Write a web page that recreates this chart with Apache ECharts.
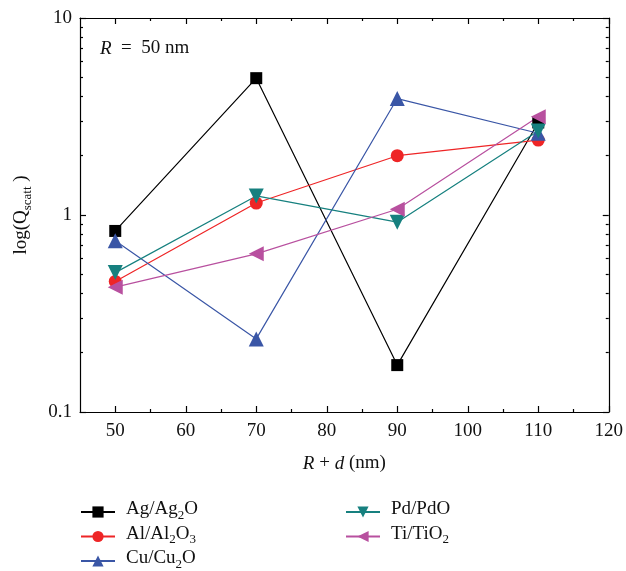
<!DOCTYPE html>
<html>
<head>
<meta charset="utf-8">
<script src="https://cdn.jsdelivr.net/npm/echarts@6/dist/echarts.min.js"></script>
<style>
  html, body { margin: 0; padding: 0; background: #fff; }
  #chart { width: 626px; height: 571px; }
</style>
</head>
<body>
<div id="chart"></div>
<script>
// R + d (nm)
const xValues = [50, 70, 90, 110];

// Q_scatt per shell material
const agValues = [0.83, 4.95, 0.173, 2.95];
const alValues = [0.46, 1.15, 2.0, 2.4];
const cuValues = [0.74, 0.235, 3.9, 2.6];
const pdValues = [0.51, 1.25, 0.92, 2.67];
const tiValues = [0.43, 0.635, 1.07, 3.15];

const seriesNames = ['Ag/Ag2O', 'Al/Al2O3', 'Cu/Cu2O', 'Pd/PdO', 'Ti/TiO2'];

// tick positions
const xMajorTicks = [50, 60, 70, 80, 90, 100, 110, 120];
const xMinorTicks = [55, 65, 75, 85, 95, 105, 115];
const yMajorTicks = [0.1, 1, 10];
const yMinorTicks = [0.2, 0.3, 0.4, 0.5, 0.6, 0.7, 0.8, 0.9, 2, 3, 4, 5, 6, 7, 8, 9];

const FONT = '"Liberation Serif", "DejaVu Serif", serif';
const FS = 19;

const chart = echarts.init(document.getElementById('chart'));

const pair = vals => xValues.map((x, i) => [x, vals[i]]);

// label text with subscripts
const subRich = {
  n: { fontFamily: FONT, fontSize: FS, color: '#111', lineHeight: 20, verticalAlign: 'bottom', padding: [0, 0, 3, 0] },
  s: { fontFamily: FONT, fontSize: 13, color: '#111', lineHeight: 20, verticalAlign: 'bottom' }
};
const legendLabel = name => ({
  'Ag/Ag2O': '{n|Ag/Ag}{s|2}{n|O}',
  'Al/Al2O3': '{n|Al/Al}{s|2}{n|O}{s|3}',
  'Cu/Cu2O': '{n|Cu/Cu}{s|2}{n|O}',
  'Pd/PdO': '{n|Pd/PdO}',
  'Ti/TiO2': '{n|Ti/TiO}{s|2}'
}[name]);

const makeSeries = (name, vals, color, symbol, size, rotate) => ({
  name,
  type: 'line',
  data: pair(vals),
  xAxisIndex: 0,
  yAxisIndex: 0,
  symbol,
  symbolSize: size,
  symbolRotate: rotate,
  lineStyle: { color, width: 1.2 },
  itemStyle: { color },
  emphasis: { disabled: true }
});

const xAxisBase = {
  type: 'value', min: 45, max: 120,
  splitLine: { show: false },
  axisLine: { show: false, lineStyle: { color: '#000', width: 1.2 } },
  axisLabel: { show: false },
  axisTick: { show: false }
};
const yAxisBase = {
  type: 'log', min: 0.1, max: 10,
  splitLine: { show: false },
  axisLine: { show: false, lineStyle: { color: '#000', width: 1.2 } },
  axisLabel: { show: false },
  axisTick: { show: false }
};
const tickStyle = { color: '#000', width: 1.2 };
const italicRich = { i: { fontFamily: FONT, fontSize: FS, fontStyle: 'italic', color: '#111' } };

const legendCommon = {
  orient: 'vertical', top: 500, height: 90, padding: 0,
  itemWidth: 34, itemHeight: 14, itemGap: 2.5,
  formatter: legendLabel,
  textStyle: { rich: subRich, padding: [0, 0, 0, 6] }
};

chart.setOption({
  animation: false,
  grid: { left: 80, right: 17, top: 18, bottom: 159 },
  title: {
    text: '{i|R}  =  50 nm',
    left: 95, top: 34,
    textStyle: {
      fontFamily: FONT, fontSize: FS, fontWeight: 'normal', color: '#111',
      rich: italicRich
    }
  },
  legend: [
    { ...legendCommon, data: seriesNames.slice(0, 3), left: 80 },
    { ...legendCommon, data: seriesNames.slice(3), left: 345 }
  ],
  xAxis: [
    {
      ...xAxisBase, position: 'bottom',
      axisLine: { show: true, lineStyle: { color: '#000', width: 1.2 } },
      axisTick: { show: true, inside: true, length: 6, lineStyle: tickStyle, customValues: xMajorTicks },
      axisLabel: { show: true, customValues: xMajorTicks, fontFamily: FONT, fontSize: FS, color: '#111', margin: 10 },
      name: '{i|R} + {i|d} (nm)',
      nameLocation: 'middle', nameGap: 42,
      nameTextStyle: { fontFamily: FONT, fontSize: FS, color: '#111', rich: italicRich }
    },
    {
      ...xAxisBase, position: 'bottom',
      axisTick: { show: true, inside: true, length: 3, lineStyle: tickStyle, customValues: xMinorTicks }
    },
    {
      ...xAxisBase, position: 'top',
      axisLine: { show: true, lineStyle: { color: '#000', width: 1.2 } },
      axisTick: { show: true, inside: true, length: 6, lineStyle: tickStyle, customValues: xMajorTicks }
    },
    {
      ...xAxisBase, position: 'top',
      axisTick: { show: true, inside: true, length: 3, lineStyle: tickStyle, customValues: xMinorTicks }
    }
  ],
  yAxis: [
    {
      ...yAxisBase, position: 'left',
      axisLine: { show: true, lineStyle: { color: '#000', width: 1.2 } },
      axisTick: { show: true, inside: true, length: 6, lineStyle: tickStyle, customValues: yMajorTicks },
      axisLabel: { show: true, customValues: yMajorTicks, fontFamily: FONT, fontSize: FS, color: '#111', margin: 8 },
      name: '{n|log(Q}{s|scatt}{n| )}',
      nameLocation: 'middle', nameGap: 46, nameRotate: 90,
      nameTextStyle: { rich: subRich }
    },
    {
      ...yAxisBase, position: 'left',
      axisTick: { show: true, inside: true, length: 3, lineStyle: tickStyle, customValues: yMinorTicks }
    },
    {
      ...yAxisBase, position: 'right',
      axisLine: { show: true, lineStyle: { color: '#000', width: 1.2 } },
      axisTick: { show: true, inside: true, length: 6, lineStyle: tickStyle, customValues: yMajorTicks }
    },
    {
      ...yAxisBase, position: 'right',
      axisTick: { show: true, inside: true, length: 3, lineStyle: tickStyle, customValues: yMinorTicks }
    }
  ],
  series: [
    makeSeries('Ag/Ag2O', agValues, '#000000', 'rect', 12, 0),
    makeSeries('Al/Al2O3', alValues, '#ee2526', 'circle', 13, 0),
    makeSeries('Cu/Cu2O', cuValues, '#3a56a6', 'triangle', 15, 0),
    makeSeries('Pd/PdO', pdValues, '#16807f', 'triangle', 15, 180),
    makeSeries('Ti/TiO2', tiValues, '#b8509f', 'triangle', 15, 90)
  ]
});
</script>
</body>
</html>
